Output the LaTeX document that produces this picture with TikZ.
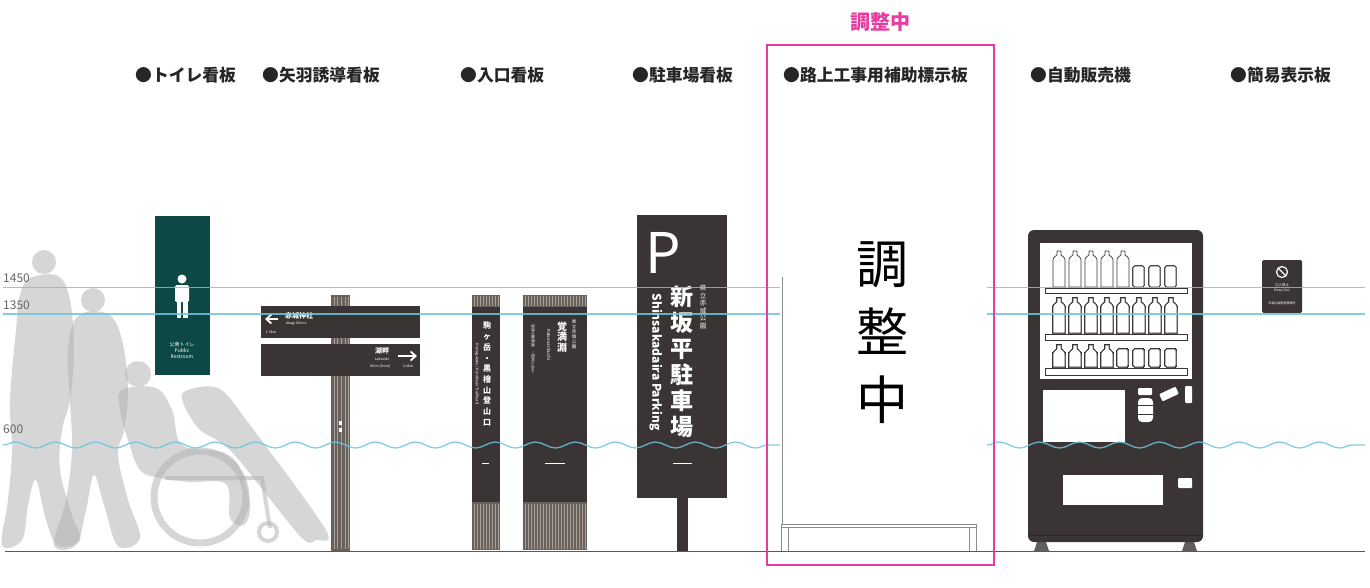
\documentclass[tikz,border=0pt]{standalone}
\usepackage{fontspec}
\setmainfont{Noto Sans CJK JP}
\usetikzlibrary{decorations.pathmorphing,arrows.meta}
\definecolor{signdark}{RGB}{58,53,52}
\definecolor{toiletgreen}{RGB}{14,72,68}
\definecolor{levelblue}{RGB}{110,196,222}
\definecolor{wood}{RGB}{104,96,90}
\definecolor{woodlight}{RGB}{168,160,152}
\definecolor{pending}{RGB}{232,58,160}
\definecolor{shadowgray}{RGB}{175,175,175}

% one PET bottle / one can on a shelf: x, top, bottom
\newcommand\petbottle[3]{%
  \draw[bottle] (#1+4,#2) -- (#1+8,#2) -- (#1+8,#2+4)
    .. controls (#1+12,#2+7) .. (#1+12,#2+11) -- (#1+12,#3)
    -- (#1,#3) -- (#1,#2+11) .. controls (#1,#2+7) .. (#1+4,#2+4) -- cycle;}
\newcommand\drinkcan[3]{%
  \draw[bottle, rounded corners=1.5] (#1,#2) rectangle (#1+11,#3);}

\begin{document}
\begin{tikzpicture}[x=1pt, y=-1pt,
    signname/.style={font=\fontsize{16.8}{17}\selectfont\bfseries, text=black!85, anchor=west, inner sep=0pt},
    heightline/.style={levelblue, line width=1.3pt, opacity=0.85},
    wave/.style={heightline, decorate, decoration={snake, segment length=40, amplitude=3}},
    heightnum/.style={font=\fontsize{12}{12}\selectfont, text=black!60, anchor=base west, inner sep=0pt},
    wtext/.style={text=white, inner sep=0pt, align=center},
    silhouette/.style={fill=shadowgray, draw=none, opacity=0.5},
    grain/.style={woodlight, line width=0.6pt},
    bottle/.style={draw=signdark, fill=white, line width=0.7pt},
    shelf/.style={draw=signdark, fill=white, line width=0.7pt},
    bench/.style={draw=black!45, line width=0.6pt}
  ]
  \useasboundingbox (0,0) rectangle (1370,587);
  \fill[white] (0,0) rectangle (1370,587);

  % people walking, one in a wheelchair
  \fill[silhouette] (44,262) circle (12);
  \fill[silhouette] plot[smooth cycle, tension=0.6] coordinates {(30,278) (58,276) (70,300) (74,350) (70,400) (62,430) (60,470) (72,515) (80,540) (58,546) (46,520) (36,480) (28,505) (22,540) (2,545) (8,500) (12,450) (10,400) (16,330) (20,295)};
  \fill[silhouette] (93,300) circle (12);
  \fill[silhouette] plot[smooth cycle, tension=0.6] coordinates {(78,316) (108,314) (122,340) (128,390) (124,430) (118,455) (128,500) (140,538) (118,546) (104,505) (94,475) (86,510) (76,545) (54,545) (66,500) (72,450) (70,400) (68,350)};
  \fill[silhouette] plot[smooth cycle, tension=0.5] coordinates {(182,394) (218,388) (250,425) (326,530) (316,540) (300,536) (232,452) (198,428)};
  \fill[silhouette] (138,374) circle (13);
  \fill[silhouette] plot[smooth cycle, tension=0.6] coordinates {(122,390) (156,388) (172,410) (182,445) (222,452) (240,468) (250,505) (244,525) (230,518) (226,484) (190,482) (160,478) (140,470) (128,440) (120,410)};
  \draw[shadowgray, line width=7, opacity=0.5] (200,497) circle (46);
  \draw[shadowgray, line width=4, opacity=0.5] (268,532) circle (9);
  \draw[shadowgray, line width=4, opacity=0.5] (165,478) -- (262,478) -- (270,528);

  % toilet sign
  \fill[toiletgreen] (155,216) rectangle (210,375);
  \fill[white] (182,279) circle (4.5);
  \fill[white, rounded corners=1.5] (175,285) rectangle (189,302);
  \fill[white] (176.5,300) rectangle (181.3,318);
  \fill[white] (182.7,300) rectangle (187.5,318);
  \node[wtext, font=\fontsize{5}{6}\selectfont] (toilet-text) at (182,350) {公衆トイレ\\Public\\Restroom};

  % arrow sign on a wooden post
  \fill[wood] (331,295) rectangle (350,551);
  \foreach \gx in {334,337.5,341,345,348}
    \draw[grain] (\gx,297) -- (\gx,549);
  \fill[white] (338.5,421) rectangle (341.5,425);
  \fill[white] (338.5,428) rectangle (341.5,432);
  \fill[signdark] (261,306) rectangle (420,338);
  \fill[signdark] (261,344) rectangle (420,376);
  \draw[white, line width=1.8, -{Straight Barb[length=5pt,width=9pt]}] (278,319) -- (265,319);
  \node[wtext, font=\fontsize{7}{8}\selectfont\bfseries, anchor=west] (shrine-ja) at (285,316) {赤城神社};
  \node[wtext, font=\fontsize{3.5}{4}\selectfont, anchor=west] (shrine-en) at (286,324) {Akagi Shrine};
  \node[wtext, font=\fontsize{3.5}{4}\selectfont] (shrine-km) at (271,332) {1.0km};
  \draw[white, line width=1.8, -{Straight Barb[length=5pt,width=9pt]}] (398,356) -- (417,356);
  \node[wtext, font=\fontsize{7}{8}\selectfont\bfseries] (lake-ja) at (382,351) {湖畔};
  \node[wtext, font=\fontsize{3.5}{4}\selectfont] (lake-en) at (382,359) {Lakeside};
  \node[wtext, font=\fontsize{3.5}{4}\selectfont] (lake-km) at (380,366) {400m (5min)};
  \node[wtext, font=\fontsize{3.5}{4}\selectfont] (lake-km2) at (408,366) {0.4km};

  % entrance pillars
  \foreach \px/\pw in {472/28, 523/64} {
    \fill[signdark] (\px,307) rectangle (\px+\pw,502);
    \fill[wood] (\px,295) rectangle (\px+\pw,307);
    \fill[wood] (\px,502) rectangle (\px+\pw,550);
    \foreach \gx in {2,5,...,\pw}
      \draw[grain] (\px+\gx,296) -- (\px+\gx,306) (\px+\gx,504) -- (\px+\gx,549);
  }
  \node[wtext, font=\fontsize{8}{10.7}\selectfont\bfseries] (trail-ja) at (487,374) {駒\\ヶ\\岳\\・\\黒\\檜\\山\\登\\山\\口};
  \node[wtext, rotate=-90, font=\fontsize{3.8}{4}\selectfont] (trail-en) at (477,374) {Komagatake / Kurobisan Trailhead};
  \node[wtext, font=\fontsize{4.5}{5}\selectfont] (marsh-park) at (574,334) {県\\立\\赤\\城\\公\\園};
  \node[wtext, font=\fontsize{10}{10.5}\selectfont\bfseries] (marsh-ja) at (562,337) {覚\\満\\淵};
  \node[wtext, rotate=-90, font=\fontsize{4.5}{5}\selectfont] (marsh-en) at (549,345) {Kakumanbuchi};
  \node[wtext, rotate=-90, font=\fontsize{3.8}{4}\selectfont] (marsh-note) at (533,349) {湿原の散策路　一周約1.6km};
  \draw[white, line width=1] (482,463) -- (489,463) (545,463) -- (565,463);

  % parking sign
  \fill[signdark] (677,498) rectangle (688,551);
  \fill[signdark] (637,215) rectangle (727,498);
  \node[wtext, font=\fontsize{56}{56}\selectfont, anchor=base west] (park-p) at (645,273) {P};
  \node[wtext, font=\fontsize{23}{26}\selectfont\bfseries] (park-ja) at (682,362) {新\\坂\\平\\駐\\車\\場};
  \node[wtext, font=\fontsize{6.5}{7.5}\selectfont] (park-park) at (703,307) {県\\立\\赤\\城\\公\\園};
  \node[wtext, rotate=-90, font=\fontsize{12}{12}\selectfont\bfseries] (park-en) at (656,362) {Shinsakadaira Parking};
  \draw[white, line width=1] (673,463) -- (692,463);

  % roadside work panel with its stand
  \draw[bench] (782,277) -- (782,525);
  \node[align=center, inner sep=0pt, font=\fontsize{52}{68}\selectfont] (work-panel) at (882,333) {調\\整\\中};
  \draw[bench] (781,524) -- (976,524) (781,527) -- (976,527);
  \draw[bench] (781,524) -- (781,551) (788,527) -- (788,551);
  \draw[bench] (969,527) -- (969,551) (976,524) -- (976,551);

  % vending machine
  \fill[signdark!80] (1034,551) -- (1037,542) -- (1046,542) -- (1049,551) -- cycle;
  \fill[signdark!80] (1182,551) -- (1185,542) -- (1194,542) -- (1197,551) -- cycle;
  \fill[signdark, rounded corners=6] (1028,230) rectangle (1203,542);
  \draw[black!85, line width=0.8] (1029,535) -- (1202,535);
  \fill[white] (1040,243) rectangle (1192,379);
  \foreach \bx in {1053,1069,1085,1101,1117}
    \petbottle{\bx}{251}{287}
  \foreach \bx in {1133,1149,1165}
    \drinkcan{\bx}{266}{287}
  \foreach \bx in {1053,1069,...,1165}
    \petbottle{\bx}{298}{333}
  \foreach \bx in {1053,1069,1085,1101}
    \petbottle{\bx}{345}{367}
  \foreach \bx in {1117,1133,1149,1165}
    \drinkcan{\bx}{349}{367}
  \draw[shelf] (1045,288) rectangle (1187,293);
  \draw[shelf] (1045,334) rectangle (1187,340);
  \draw[shelf] (1045,368) rectangle (1187,375);
  \fill[white] (1043,390) rectangle (1125,442);
  \fill[white, rounded corners=1] (1138,388) rectangle (1152,395);
  \fill[white, rotate around={25:(1169,394)}, rounded corners=1] (1160,390) rectangle (1178,398);
  \fill[white, rounded corners=1] (1185,386) rectangle (1192,403);
  \fill[white, rounded corners=4] (1138,398) rectangle (1153,422);
  \draw[signdark, line width=0.6] (1138,405) -- (1153,405) (1138,414) -- (1153,414);
  \fill[white] (1063,475) rectangle (1163,505);
  \fill[white, rounded corners=1] (1178,478) rectangle (1192,488);

  % small notice board
  \fill[signdark, rounded corners=1.5] (1262,260) rectangle (1302,313);
  \draw[white, line width=1.2] (1282,272) circle (5.5);
  \draw[white, line width=1.2] (1278.2,268.2) -- (1285.8,275.8);
  \node[wtext, font=\fontsize{3.5}{4.5}\selectfont] (notice-text) at (1282,288) {立入禁止\\Keep Out};
  \node[wtext, font=\fontsize{3}{4}\selectfont] (notice-foot) at (1282,303) {赤城公園管理事務所};

  % height lines in mm
  \foreach \hy/\hv in {287.5/1450, 314/1350} {
    \draw[heightline] (3,\hy) -- (780,\hy);
    \draw[heightline] (987,\hy) -- (1365,\hy);
    \node[heightnum] (num-\hv) at (3,\hy-5) {\hv};
  }
  \draw[wave] (3,445) -- (780,445);
  \draw[wave] (987,445) -- (1365,445);
  \node[heightnum] (num-600) at (3,433) {600};

  % ground
  \draw[black!65, line width=1] (5,551) -- (1365,551);

  % item names
  \foreach \lx/\ltxt [count=\i] in {135/トイレ看板, 262/矢羽誘導看板, 460/入口看板, 632/駐車場看板, 783/路上工事用補助標示板, 1030/自動販売機, 1230/簡易表示板}
    \node[signname] (sign-\i) at (\lx,75) {●\ltxt};

  % item still under review
  \draw[pending, line width=2] (767,45) rectangle (994,565);
  \node[font=\fontsize{20}{20}\selectfont\bfseries, text=pending] (pending-title) at (880,22) {調整中};
\end{tikzpicture}
\end{document}
